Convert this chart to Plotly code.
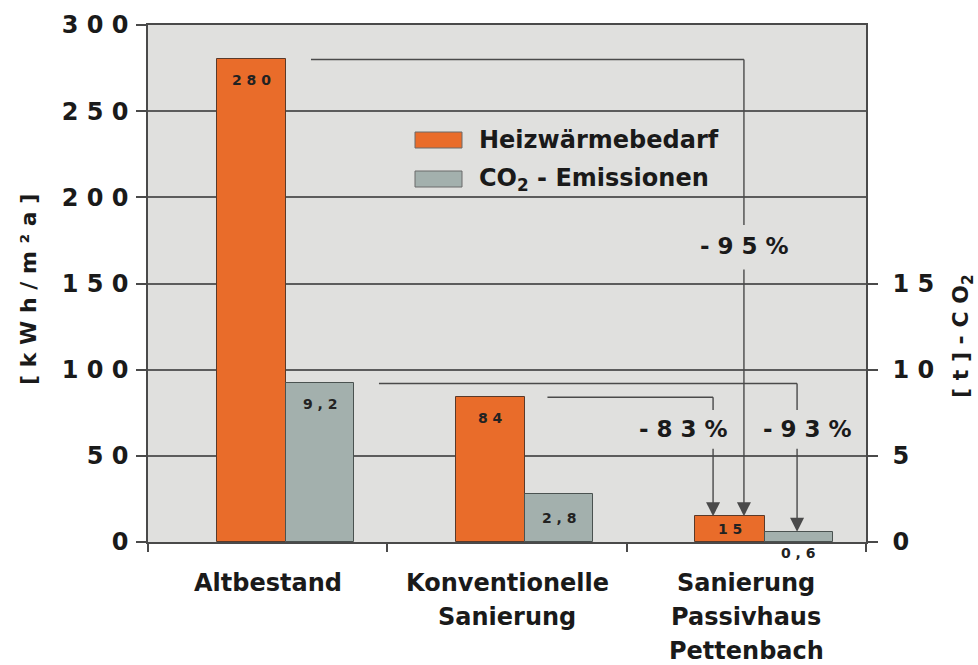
import plotly.graph_objects as go

# ---------------- data ----------------
categories = [["Altbestand"], ["Konventionelle", "Sanierung"], ["Sanierung", "Passivhaus", "Pettenbach"]]
heat_demand = [280, 84, 15]          # kWh/m²a (left axis)
co2_emissions = [9.2, 2.8, 0.6]      # t CO2 (right axis)
reductions = [95, 83, 93]            # % shown in the arrows
left_tickvals = [0, 50, 100, 150, 200, 250, 300]
right_tickvals = [0, 5, 10, 15]
series_names = ["Heizwärmebedarf", "CO<sub>2</sub> - Emissionen"]


def spaced(v):
    s = ("%g" % v).replace(".", ",")
    return " ".join(s)


FONT = "DejaVu Sans"
TXT = "#1a1a1a"
ORANGE = "#e96c2a"
GREY = "#a3b0ad"
LINE = "#4a4a4a"

x_idx = list(range(len(categories)))
H_OFF, H_W = -0.213, 0.29
C_OFF, C_W = 0.077, 0.284

fig = go.Figure()
fig.add_trace(go.Bar(
    x=x_idx, y=heat_demand, offset=H_OFF, width=H_W, name="Heizwärmebedarf",
    marker=dict(color=ORANGE, line=dict(color="#5a3a2a", width=1)),
    yaxis="y", hoverinfo="skip"))
fig.add_trace(go.Bar(
    x=x_idx, y=co2_emissions, offset=C_OFF, width=C_W, name="CO2 - Emissionen",
    marker=dict(color=GREY, line=dict(color="#4a5250", width=1)),
    yaxis="y2", hoverinfo="skip"))

annotations = []
PX_PER_UNIT = 517 / 300.0

# value labels inside / below bars
for i, v in enumerate(heat_demand):
    h = v * PX_PER_UNIT
    dy = -21 if h > 60 else -h / 2
    annotations.append(dict(x=i + H_OFF + H_W / 2, y=v, xref="x", yref="y",
                            text=spaced(v), showarrow=False, yshift=dy,
                            font=dict(family=FONT, size=14, color="#222", weight="bold")))
for i, v in enumerate(co2_emissions):
    h = v * 10 * PX_PER_UNIT
    if h > 60:
        yy, dy = v, -21
    elif h > 20:
        yy, dy = v, -h / 2
    else:
        yy, dy = 0, -11
    annotations.append(dict(x=i + C_OFF + C_W / 2, y=yy, xref="x", yref="y2",
                            text=spaced(v), showarrow=False, yshift=dy,
                            font=dict(family=FONT, size=14, color="#222", weight="bold")))

# category labels (one annotation per line)
for i, lines in enumerate(categories):
    for j, ln in enumerate(lines):
        annotations.append(dict(x=i, y=0, xref="x", yref="y", text=ln, showarrow=False,
                                yanchor="middle", yshift=-(41 + 34 * j),
                                font=dict(family=FONT, size=24, color=TXT, weight="bold")))

# reduction connectors
last = len(categories) - 1
connectors = [
    # yref, from value, to value, corner x, start x, label, break top, break bottom, label xshift
    ("y", heat_demand[0], heat_demand[last], 1.99, H_OFF + H_W + 0.104, reductions[0], 184, 159, 1),
    ("y", heat_demand[1], heat_demand[last], 1.861, 1 + H_OFF + H_W + 0.092, reductions[1], 76.6, 55, -30),
    ("y2", co2_emissions[0], co2_emissions[last], 2.212, C_OFF + C_W + 0.104, reductions[2], 7.66, 5.5, 10),
]
shapes = []
for yref, v_from, v_to, xc, xs, red, brk_top, brk_bot, lx_shift in connectors:
    shapes.append(dict(type="line", xref="x", yref=yref, x0=xs, x1=xc, y0=v_from, y1=v_from,
                       line=dict(color=LINE, width=1.4)))
    shapes.append(dict(type="line", xref="x", yref=yref, x0=xc, x1=xc, y0=v_from, y1=brk_top,
                       line=dict(color=LINE, width=1.4)))
    annotations.append(dict(x=xc, y=v_to, xref="x", yref=yref, ax=xc, ay=brk_bot,
                            axref="x", ayref=yref, showarrow=True, arrowhead=2,
                            arrowsize=2.0, arrowwidth=1.4, arrowcolor=LINE, text=""))
    mid = (brk_top + brk_bot) / 2
    annotations.append(dict(x=xc, y=mid, xref="x", yref=yref, text="- " + " ".join(str(red)) + " %",
                            showarrow=False, xshift=lx_shift,
                            font=dict(family=FONT, size=23, color=TXT, weight="bold")))


# legend (manual, large swatches)
def px2paper(px, py):
    return (px - 148) / 718.0, (542 - py) / 517.0


legend_colors = [ORANGE, GREY]
legend_y = [140, 179]
for name, col, cy in zip(series_names, legend_colors, legend_y):
    x0, y0 = px2paper(415, cy - 8)
    x1, y1 = px2paper(462, cy + 8)
    shapes.append(dict(type="rect", xref="paper", yref="paper", x0=x0, x1=x1, y0=y1, y1=y0,
                       fillcolor=col, line=dict(color="#6a6a6a", width=1)))
    tx, ty = px2paper(477, cy)
    annotations.append(dict(x=tx, y=ty, xref="paper", yref="paper", text=name, showarrow=False,
                            xanchor="left", yanchor="middle",
                            font=dict(family=FONT, size=24, color=TXT, weight="bold")))

# axis titles
lx, ly = px2paper(28, 290)
annotations.append(dict(x=lx, y=ly, xref="paper", yref="paper", text="[ k W h / m ² a ]",
                        textangle=-90, showarrow=False, xanchor="center", yanchor="middle",
                        font=dict(family=FONT, size=22, color=TXT, weight="bold")))
rx, ry = px2paper(962, 336)
annotations.append(dict(x=rx, y=ry, xref="paper", yref="paper", text="[ t ] - C O<sub>2</sub>",
                        textangle=-90, showarrow=False, xanchor="center", yanchor="middle",
                        font=dict(family=FONT, size=22, color=TXT, weight="bold")))

fig.update_layout(
    width=978, height=665,
    margin=dict(l=148, r=112, t=25, b=123, autoexpand=False),
    paper_bgcolor="white", plot_bgcolor="#e0e0de",
    showlegend=False, barmode="overlay", bargap=0,
    font=dict(family=FONT, size=24, color=TXT, weight="bold"),
    xaxis=dict(range=[-0.5, 2.5], tickvals=[-0.5, 0.5, 1.5, 2.5], showticklabels=False,
               ticks="outside", ticklen=8, tickwidth=1.5, tickcolor=LINE, automargin=False,
               showline=True, linecolor=LINE, linewidth=1.5, mirror=True,
               showgrid=False, zeroline=False, fixedrange=True),
    yaxis=dict(range=[0, 300], tickvals=left_tickvals,
               ticktext=[" ".join(str(t)) for t in left_tickvals],
               ticks="outside", ticklen=10, tickwidth=1.5, tickcolor=LINE,
               ticklabelstandoff=3, automargin=False,
               showline=True, linecolor=LINE, linewidth=1.5,
               showgrid=True, gridcolor="#5c5c5c", gridwidth=1.5, zeroline=False,
               tickfont=dict(family=FONT, size=24, color=TXT, weight="bold")),
    yaxis2=dict(range=[0, 30], overlaying="y", side="right", tickvals=right_tickvals,
                ticktext=[" ".join(str(t)) for t in right_tickvals],
                ticks="outside", ticklen=10, tickwidth=1.5, tickcolor=LINE,
                ticklabelstandoff=10, automargin=False,
                showline=True, linecolor=LINE, linewidth=1.5,
                showgrid=False, zeroline=False,
                tickfont=dict(family=FONT, size=24, color=TXT, weight="bold")),
    shapes=shapes, annotations=annotations,
)

fig.write_html("out.html", config={"displayModeBar": False},
               post_script="document.body.style.margin='0';document.body.style.overflow='hidden';")
